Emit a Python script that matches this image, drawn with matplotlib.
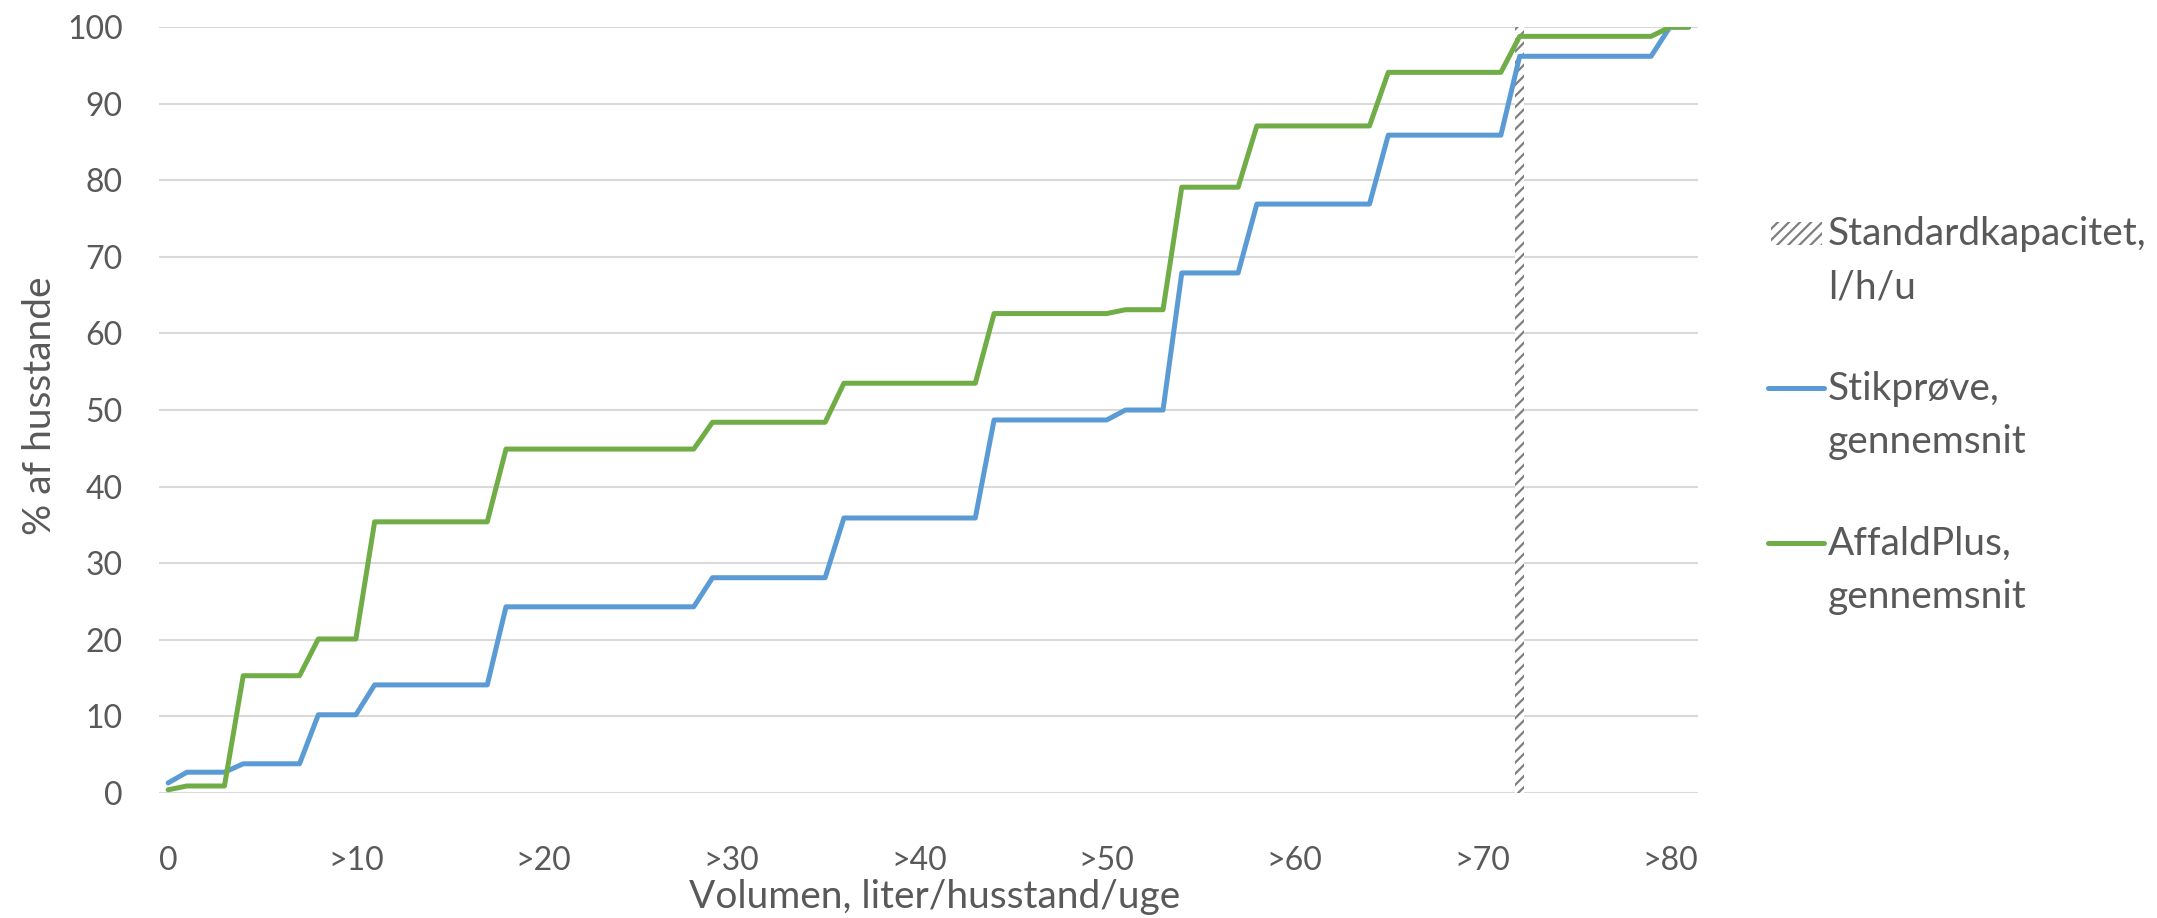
import matplotlib
matplotlib.use("Agg")
import matplotlib.pyplot as plt
from matplotlib.patches import Rectangle
from matplotlib.lines import Line2D

plt.rcParams['font.family'] = ['Lato', 'DejaVu Sans']
plt.rcParams['hatch.linewidth'] = 1.6

# volume categories (litre/household/week), 0..81
categories = list(range(82))
tick_labels = ["0", ">10", ">20", ">30", ">40", ">50", ">60", ">70", ">80"]

# cumulative share of households (%)
stikprove = [1.3, 2.7, 2.7, 2.7, 3.8, 3.8, 3.8, 3.8, 10.2, 10.2,
             10.2, 14.1, 14.1, 14.1, 14.1, 14.1, 14.1, 14.1, 24.3, 24.3,
             24.3, 24.3, 24.3, 24.3, 24.3, 24.3, 24.3, 24.3, 24.3, 28.1,
             28.1, 28.1, 28.1, 28.1, 28.1, 28.1, 35.9, 35.9, 35.9, 35.9,
             35.9, 35.9, 35.9, 35.9, 48.7, 48.7, 48.7, 48.7, 48.7, 48.7,
             48.7, 50.0, 50.0, 50.0, 67.9, 67.9, 67.9, 67.9, 76.9, 76.9,
             76.9, 76.9, 76.9, 76.9, 76.9, 85.9, 85.9, 85.9, 85.9, 85.9,
             85.9, 85.9, 96.2, 96.2, 96.2, 96.2, 96.2, 96.2, 96.2, 96.2,
             100.0, 100.0]

affaldplus = [0.4, 0.9, 0.9, 0.9, 15.3, 15.3, 15.3, 15.3, 20.1, 20.1,
              20.1, 35.4, 35.4, 35.4, 35.4, 35.4, 35.4, 35.4, 44.9, 44.9,
              44.9, 44.9, 44.9, 44.9, 44.9, 44.9, 44.9, 44.9, 44.9, 48.4,
              48.4, 48.4, 48.4, 48.4, 48.4, 48.4, 53.5, 53.5, 53.5, 53.5,
              53.5, 53.5, 53.5, 53.5, 62.6, 62.6, 62.6, 62.6, 62.6, 62.6,
              62.6, 63.1, 63.1, 63.1, 79.1, 79.1, 79.1, 79.1, 87.1, 87.1,
              87.1, 87.1, 87.1, 87.1, 87.1, 94.1, 94.1, 94.1, 94.1, 94.1,
              94.1, 94.1, 98.8, 98.8, 98.8, 98.8, 98.8, 98.8, 98.8, 98.8,
              100.0, 100.0]

capacity_cat = 72
capacity_value = 100

legend_labels = ["Standardkapacitet,\nl/h/u", "Stikprøve,\ngennemsnit", "AffaldPlus,\ngennemsnit"]

text_col = "#595959"
blue = "#5B9BD5"
green = "#70AD47"
hatch_col = "#7f7f7f"

W, H = 2157, 918
fig = plt.figure(figsize=(W / 100, H / 100), dpi=100)
ax = fig.add_axes([0.0736, 0.1363, 0.7136, 0.8341])

ax.bar(capacity_cat, capacity_value, width=0.45, facecolor="white",
       edgecolor=hatch_col, linewidth=0, hatch="///", zorder=2)
ax.plot(categories, stikprove, color=blue, lw=3.6, solid_joinstyle="round",
        solid_capstyle="round", zorder=3)
ax.plot(categories, affaldplus, color=green, lw=3.6, solid_joinstyle="round",
        solid_capstyle="round", zorder=3)

ax.set_xlim(-0.5, 81.5)
ax.set_ylim(0, 100)
ax.set_yticks(range(0, 101, 10))
ax.set_xticks(categories[::10])
ax.set_xticklabels(tick_labels)
ax.grid(axis="y", color="#d9d9d9", lw=1.5, zorder=0)
ax.set_axisbelow(True)
for s in ax.spines.values():
    s.set_visible(False)
ax.tick_params(axis="both", length=0, labelsize=23, labelcolor=text_col)
ax.tick_params(axis="x", pad=38)
ax.tick_params(axis="y", pad=26)

ax.set_xlabel("Volumen, liter/husstand/uge", fontsize=28, color=text_col)
ax.xaxis.set_label_coords(0.504, -0.136)
ax.xaxis.label.set_va("center")
ax.set_ylabel("% af husstande", fontsize=28, color=text_col)
ax.yaxis.set_label_coords(-0.077, 0.505)
ax.yaxis.label.set_va("center")

# legend drawn by hand: handle sits on the first text line, like Excel does
hx0, hx1, tx = 1768 / W, 1824 / W, 1828 / W
first_baselines = [245, 400, 555]
line_gap = 53
for i, label in enumerate(legend_labels):
    base = first_baselines[i]
    mid = base - 12
    if i == 0:
        fig.add_artist(Rectangle((1771 / W, 1 - 245 / H), 51 / W, 23 / H,
                                 transform=fig.transFigure, facecolor="white",
                                 edgecolor=hatch_col, linewidth=0, hatch="///"))
    else:
        col = blue if i == 1 else green
        fig.add_artist(Line2D([hx0, hx1], [1 - mid / H, 1 - mid / H],
                              transform=fig.transFigure, color=col, lw=3.6,
                              solid_capstyle="round"))
    for j, part in enumerate(label.split("\n")):
        fig.text(tx, 1 - (base + j * line_gap) / H, part, fontsize=28,
                 color=text_col, ha="left", va="baseline")

fig.savefig("out.png", dpi=100)
